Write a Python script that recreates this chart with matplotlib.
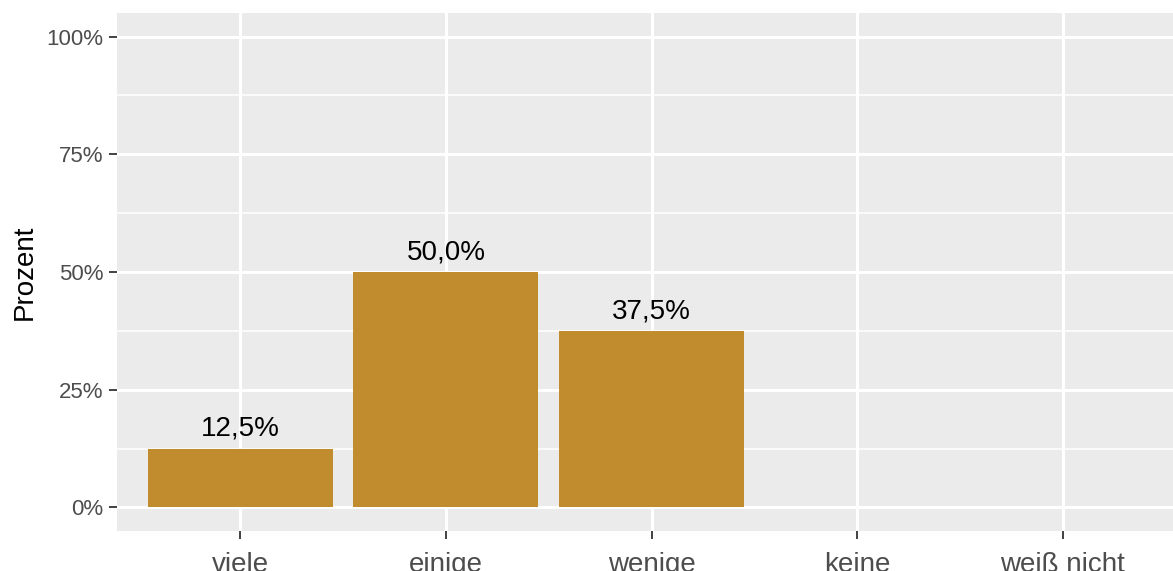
#Bar chart: Prozent je Kategorie (ggplot look)

#Libraries
import numpy as np
import matplotlib
matplotlib.use('Agg')
import matplotlib.pyplot as plt
from matplotlib.ticker import FixedLocator

#Data
categories=['viele','einige','wenige','keine','weiß nicht']
percent=[12.5,50.0,37.5,0.0,0.0]
bar_labels=['12,5%','50,0%','37,5%','','']
y_ticks=[0,25,50,75,100]
y_tick_labels=['0%','25%','50%','75%','100%']

plt.rcParams['font.family']=['Liberation Sans','DejaVu Sans']

fig=plt.figure(figsize=(11.73,5.71),dpi=100)
ax=fig.add_axes([117/1173,40/571,(1186-117)/1173,(531-13)/571])
ax.set_facecolor('#EBEBEB')

x=np.arange(len(categories))
bars=ax.bar(x,percent,width=0.9,color='#C18C2E',zorder=3)

#Value labels above bars
for xi,v,lab in zip(x,percent,bar_labels):
	if lab:
		ax.text(xi,v+1.4,lab,ha='center',va='bottom',fontsize=20,color='black',zorder=4)

ax.set_xlim(-0.6,4.6)
ax.set_ylim(-5,105)
ax.set_xticks(x)
ax.set_xticklabels(categories,fontsize=20,color='#4D4D4D')
ax.set_yticks(y_ticks)
ax.set_yticklabels(y_tick_labels,fontsize=16,color='#4D4D4D')
ax.yaxis.set_minor_locator(FixedLocator([12.5,37.5,62.5,87.5]))
ax.tick_params(axis='both',which='major',length=6,width=1.3,color='#333333',pad=4)
ax.tick_params(axis='x',which='major',pad=9)
ax.tick_params(axis='y',which='minor',length=0)

#Grid
ax.grid(which='major',color='white',linewidth=2.2,zorder=1)
ax.grid(which='minor',axis='y',color='white',linewidth=1.1,zorder=1)
ax.set_axisbelow(True)
for s in ax.spines.values():
	s.set_visible(False)

ax.set_ylabel('Prozent',fontsize=20,color='black',labelpad=6)

fig.savefig('out.png',dpi=100)
